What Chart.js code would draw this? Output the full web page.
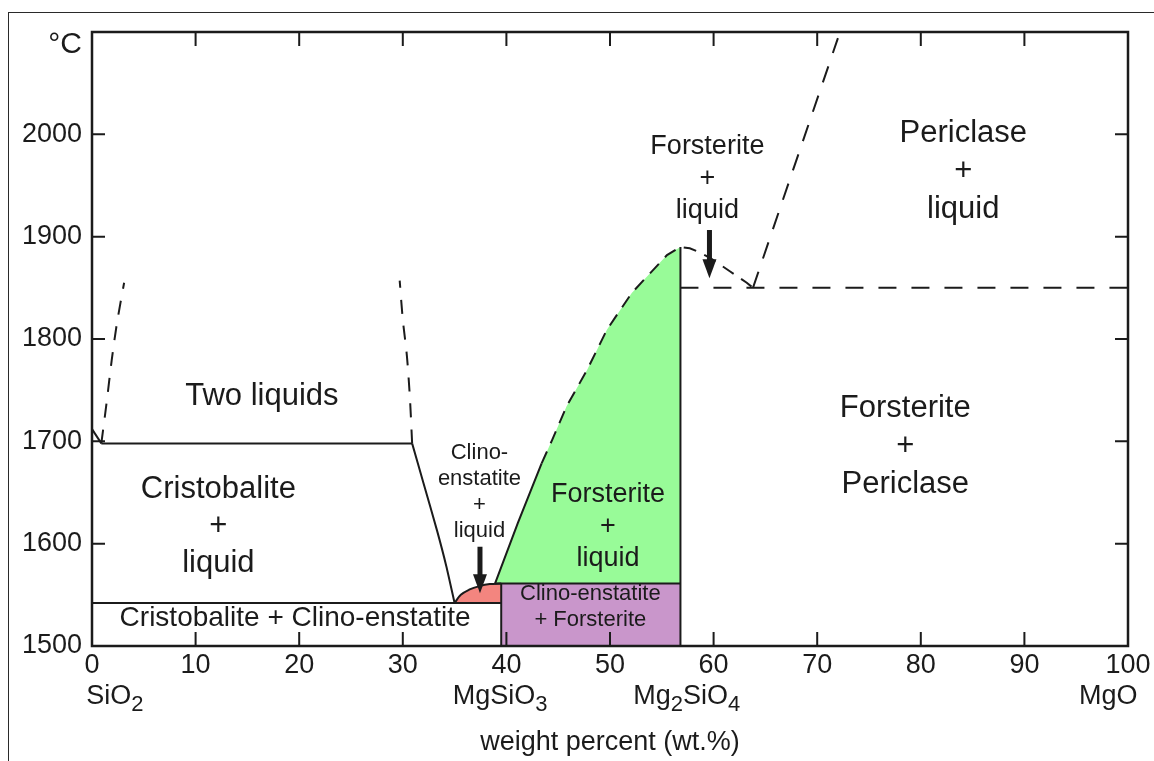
<!DOCTYPE html>
<html>
<head>
<meta charset="utf-8">
<title>SiO2–MgO phase diagram</title>
<script src="https://cdn.jsdelivr.net/npm/chart.js@4.4.1/dist/chart.umd.min.js"></script>
<style>
  html, body { margin: 0; padding: 0; background: #fff; overflow: hidden; }
  #wrap { position: relative; width: 1154px; height: 761px; }
  #frame { position: absolute; left: 8px; top: 12px; right: -20px; bottom: -20px;
           border-top: 1.5px solid #2a2a2a; border-left: 1.5px solid #2a2a2a; }
  #c { position: absolute; left: 0; top: 0; }
</style>
</head>
<body>
<div id="wrap">
  <div id="frame"></div>
  <canvas id="c" width="1154" height="761"></canvas>
</div>
<script>
// ---- axes ----
const compositionTicks = [0, 10, 20, 30, 40, 50, 60, 70, 80, 90, 100];
const temperatureTicks = [1500, 1600, 1700, 1800, 1900, 2000];
const compositionRange = [0, 100];
const temperatureRange = [1500, 2100];
const axisTitle = 'weight percent (wt.%)';
const temperatureUnit = '°C';

// ---- phase boundaries: [wt.% MgO, °C] ----
const cristobaliteLiquidus = [[0, 1712], [0.9, 1698]];
const monotectic = [[0.9, 1698], [30.9, 1698]];
const enstatiteLiquidus = [[30.9, 1698], [32.0, 1659], [33.3, 1613], [34.2, 1578], [35.0, 1542]];
const silicaEutectic = [[0, 1542], [39.5, 1542]];
const enstatiteMeltArc = [[35.0, 1542], [35.6, 1550], [36.4, 1555], [37.4, 1558.5], [38.4, 1560.5], [39.5, 1561]];
const enstatiteLine = [[39.5, 1500], [39.5, 1561]];
const peritectic = [[38.9, 1561], [56.8, 1561]];
const forsteriteLine = [[56.8, 1500], [56.8, 1890]];
const forsteriteLiquidusLow = [[38.9, 1561], [41.1, 1620], [43.4, 1678.5]];
const forsteriteLiquidusHigh = [[43.4, 1678.5], [44.4, 1701], [45.8, 1734], [47.8, 1770], [49.7, 1809],
  [52.1, 1845], [55.5, 1882], [56.8, 1890], [57.7, 1888.6], [58.5, 1885.3], [59.7, 1879],
  [61.6, 1866], [63.2, 1855], [63.8, 1850]];
const periclaseEutectic = [[56.8, 1850], [100, 1850]];
const periclaseLiquidus = [[63.8, 1850], [72.0, 2094]];
const solvusLeft = [[0.9, 1698], [1.4, 1737], [1.9, 1779], [2.4, 1815], [3.1, 1855]];
const solvusRight = [[30.9, 1698], [30.7, 1740], [30.4, 1783], [30.0, 1819], [29.7, 1857]];

// ---- field labels ----
const regionText = [
  ['Two liquids'],
  ['Cristobalite', '+', 'liquid'],
  ['Cristobalite + Clino-enstatite'],
  ['Clino-', 'enstatite', '+', 'liquid'],
  ['Forsterite', '+', 'liquid'],
  ['Clino-enstatite', '+ Forsterite'],
  ['Forsterite', '+', 'liquid'],
  ['Periclase', '+', 'liquid'],
  ['Forsterite', '+', 'Periclase']
];
const regionAnchor = [[16.4, 1744], [12.2, 1617], [19.6, 1527], [37.4, 1651], [49.8, 1617],
  [48.1, 1538], [59.4, 1957], [84.1, 1963.5], [78.5, 1695.4]];

// arrows pointing at the small fields: [wt.%, from °C, to °C]
const arrowMarks = [[37.45, 1597, 1551.5], [59.6, 1906.5, 1859.3]];

// end-member compounds under the axis ('_' starts a subscript digit)
const compoundNames = ['SiO_2', 'MgSiO_3', 'Mg_2SiO_4', 'MgO'];
const compoundAnchor = [2.2, 39.4, 57.4, 98.1];

// ---- styles ----
const FONT = '"Liberation Sans", Arial, Helvetica, sans-serif';
const INK = '#1b1b1b';
const regionStyle = [
  { size: 31, gap: 0 }, { size: 31, gap: 37 }, { size: 28, gap: 0 }, { size: 22, gap: 26 },
  { size: 27, gap: 32 }, { size: 22, gap: 26 }, { size: 27, gap: 32 }, { size: 31, gap: 38 },
  { size: 31, gap: 38 }
];

const xy = arr => arr.map(([x, y]) => ({ x, y }));

function edge(points, dash, tension) {
  return {
    data: xy(points), showLine: true, fill: false,
    borderColor: INK, borderWidth: 2, borderDash: dash || [],
    borderCapStyle: 'butt', tension: tension || 0,
    pointRadius: 0, pointHoverRadius: 0, order: 1
  };
}
function field(points, floor, color, tension) {
  return {
    data: xy(points), showLine: true, fill: { value: floor },
    backgroundColor: color, borderColor: 'rgba(0,0,0,0)', borderWidth: 1,
    tension: tension || 0, pointRadius: 0, pointHoverRadius: 0, order: 5
  };
}

const greenEdge = forsteriteLiquidusLow.concat(forsteriteLiquidusHigh.filter(p => p[0] > 43.4 && p[0] <= 56.8));

const datasets = [
  field(greenEdge, 1561, '#98fb98'),
  field(peritectic.map(p => [Math.max(p[0], 39.5), p[1]]), 1500, '#c996cb'),
  field(enstatiteMeltArc, 1542, '#f3857f', 0.4),
  edge(cristobaliteLiquidus),
  edge(monotectic),
  edge(enstatiteLiquidus, null, 0.2),
  edge(silicaEutectic),
  edge(enstatiteMeltArc, null, 0.4),
  edge(enstatiteLine),
  edge(peritectic),
  edge(forsteriteLine),
  edge(forsteriteLiquidusLow),
  edge(forsteriteLiquidusHigh, [13, 9]),
  edge(periclaseEutectic, [18, 15]),
  edge(periclaseLiquidus, [17, 14]),
  edge(solvusLeft, [14, 12], 0.3),
  edge(solvusRight, [14, 12], 0.3)
];

function drawCompound(ctx, name, cx, cy, size) {
  const parts = [];
  for (let i = 0; i < name.length; i++) {
    if (name[i] === '_') { parts.push({ t: name[i + 1], sub: true }); i++; }
    else parts.push({ t: name[i], sub: false });
  }
  const subSize = Math.round(size * 0.8);
  let w = 0;
  parts.forEach(p => { ctx.font = (p.sub ? subSize : size) + 'px ' + FONT; p.w = ctx.measureText(p.t).width; w += p.w; });
  let x = cx - w / 2;
  ctx.textAlign = 'left';
  ctx.textBaseline = 'middle';
  parts.forEach(p => {
    ctx.font = (p.sub ? subSize : size) + 'px ' + FONT;
    ctx.fillText(p.t, x, p.sub ? cy + 8 : cy);
    x += p.w;
  });
}

const diagramDecor = {
  id: 'diagramDecor',
  afterDraw(chart) {
    const { ctx, chartArea: ca } = chart;
    const xs = chart.scales.x, ys = chart.scales.y;
    ctx.save();
    ctx.strokeStyle = INK;
    ctx.fillStyle = INK;

    // frame
    ctx.lineWidth = 2.5;
    ctx.strokeRect(ca.left, ca.top, ca.right - ca.left, ca.bottom - ca.top);

    // inward tick marks on all four sides
    ctx.lineWidth = 2;
    ctx.beginPath();
    compositionTicks.forEach(v => {
      if (v <= compositionRange[0] || v >= compositionRange[1]) return;
      const px = xs.getPixelForValue(v);
      ctx.moveTo(px, ca.bottom); ctx.lineTo(px, ca.bottom - 14);
      ctx.moveTo(px, ca.top); ctx.lineTo(px, ca.top + 14);
    });
    temperatureTicks.forEach(v => {
      if (v <= temperatureRange[0]) return;
      const py = ys.getPixelForValue(v);
      ctx.moveTo(ca.left, py); ctx.lineTo(ca.left + 13, py);
      ctx.moveTo(ca.right, py); ctx.lineTo(ca.right - 13, py);
    });
    ctx.stroke();

    // arrows
    arrowMarks.forEach(([x, t0, t1]) => {
      const px = xs.getPixelForValue(x);
      const y0 = ys.getPixelForValue(t0), y1 = ys.getPixelForValue(t1);
      const head = 19, half = 7;
      ctx.fillRect(px - 2.5, y0, 5, (y1 - head) - y0 + 1);
      ctx.beginPath();
      ctx.moveTo(px - half, y1 - head);
      ctx.lineTo(px + half, y1 - head);
      ctx.lineTo(px, y1);
      ctx.closePath();
      ctx.fill();
    });

    // field labels
    ctx.textAlign = 'center';
    ctx.textBaseline = 'middle';
    regionText.forEach((lines, i) => {
      const st = regionStyle[i];
      const cx = xs.getPixelForValue(regionAnchor[i][0]);
      const cy = ys.getPixelForValue(regionAnchor[i][1]);
      ctx.font = st.size + 'px ' + FONT;
      const n = lines.length;
      lines.forEach((s, k) => ctx.fillText(s, cx, cy + (k - (n - 1) / 2) * st.gap));
    });

    // compounds under the axis
    compoundNames.forEach((nm, i) => {
      drawCompound(ctx, nm, xs.getPixelForValue(compoundAnchor[i]), ca.bottom + 51, 27);
    });

    // temperature unit
    ctx.font = '30px ' + FONT;
    ctx.textAlign = 'right';
    ctx.textBaseline = 'middle';
    ctx.fillText(temperatureUnit, ca.left - 10, ca.top + 13);
    ctx.restore();
  }
};

new Chart(document.getElementById('c'), {
  type: 'scatter',
  data: { datasets },
  plugins: [diagramDecor],
  options: {
    responsive: false,
    animation: false,
    events: [],
    layout: { padding: { top: 32, right: 26, left: 0, bottom: 0 } },
    plugins: { legend: { display: false }, tooltip: { enabled: false } },
    scales: {
      x: {
        type: 'linear', position: 'bottom',
        min: compositionRange[0], max: compositionRange[1],
        afterBuildTicks: s => { s.ticks = compositionTicks.map(v => ({ value: v })); },
        afterFit: s => { s.height = 115; },
        grid: { display: false }, border: { display: false },
        ticks: { color: INK, font: { family: FONT, size: 27 }, padding: -5, maxRotation: 0, autoSkip: false,
                 callback: v => String(v) },
        title: { display: true, text: axisTitle, color: INK, font: { family: FONT, size: 27 }, padding: { top: 0, bottom: 2 } }
      },
      y: {
        type: 'linear', position: 'left',
        min: temperatureRange[0], max: temperatureRange[1],
        afterBuildTicks: s => { s.ticks = temperatureTicks.map(v => ({ value: v })); },
        afterFit: s => { s.width = 92; },
        grid: { display: false }, border: { display: false },
        ticks: { color: INK, font: { family: FONT, size: 27 }, padding: 2, autoSkip: false,
                 callback: v => String(v) }
      }
    }
  }
});
</script>
</body>
</html>
